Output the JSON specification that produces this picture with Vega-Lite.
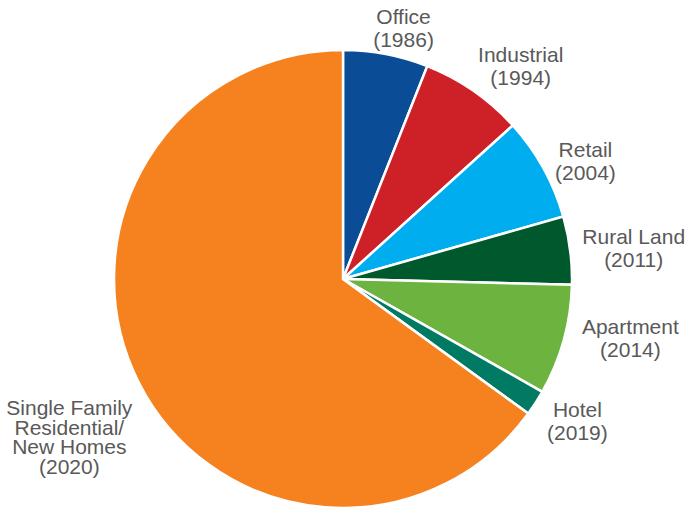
{
  "$schema": "https://vega.github.io/schema/vega-lite/v6.json",
  "width": 686,
  "height": 458,
  "autosize": {"type": "none"},
  "padding": {"left": 0, "right": 2, "top": 50, "bottom": 2},
  "background": "white",
  "config": {
    "view": {"stroke": null},
    "text": {"font": "Liberation Sans", "fontSize": 21, "color": "#595959", "align": "center", "baseline": "middle", "lineBreak": "\n", "lineHeight": 23}
  },
  "data": {
    "values": [
      {"category": "Office", "label": "Office\n(1986)", "value": 6.0, "rank": 1},
      {"category": "Industrial", "label": "Industrial\n(1994)", "value": 7.3, "rank": 2},
      {"category": "Retail", "label": "Retail\n(2004)", "value": 7.3, "rank": 3},
      {"category": "Rural Land", "label": "Rural Land\n(2011)", "value": 4.8, "rank": 4},
      {"category": "Apartment", "label": "Apartment\n(2014)", "value": 7.8, "rank": 5},
      {"category": "Hotel", "label": "Hotel\n(2019)", "value": 1.8, "rank": 6},
      {"category": "Single Family Residential/New Homes", "label": "Single Family\nResidential/\nNew Homes\n(2020)", "value": 65.0, "rank": 7}
    ]
  },
  "encoding": {
    "theta": {"field": "value", "type": "quantitative", "stack": true},
    "order": {"field": "rank", "type": "quantitative"}
  },
  "layer": [
    {
      "mark": {"type": "arc", "outerRadius": 229, "stroke": "white", "strokeWidth": 2.5},
      "encoding": {
        "color": {
          "field": "category", "type": "nominal", "legend": null,
          "scale": {
            "domain": ["Office", "Industrial", "Retail", "Rural Land", "Apartment", "Hotel", "Single Family Residential/New Homes"],
            "range": ["#0B4C96", "#CE2127", "#00AEEF", "#00592D", "#6DB33F", "#007A62", "#F5821F"]
          }
        }
      }
    },
    {
      "mark": {"type": "text", "radius": 259, "dx": 12, "dy": -7},
      "encoding": {"detail": {"field": "category"}, "text": {"condition": {"test": "datum.category === 'Office'", "field": "label"}, "value": ""}}
    },
    {
      "mark": {"type": "text", "radius": 275, "dx": 21, "dy": 3},
      "encoding": {"detail": {"field": "category"}, "text": {"condition": {"test": "datum.category === 'Industrial'", "field": "label"}, "value": ""}}
    },
    {
      "mark": {"type": "text", "radius": 268, "dx": 8, "dy": 2},
      "encoding": {"detail": {"field": "category"}, "text": {"condition": {"test": "datum.category === 'Retail'", "field": "label"}, "value": ""}}
    },
    {
      "mark": {"type": "text", "radius": 291, "dx": 2, "dy": -5},
      "encoding": {"detail": {"field": "category"}, "text": {"condition": {"test": "datum.category === 'Rural Land'", "field": "label"}, "value": ""}}
    },
    {
      "mark": {"type": "text", "radius": 293, "dx": 5, "dy": -29},
      "encoding": {"detail": {"field": "category"}, "text": {"condition": {"test": "datum.category === 'Apartment'", "field": "label"}, "value": ""}}
    },
    {
      "mark": {"type": "text", "radius": 274, "dx": 4, "dy": -16},
      "encoding": {"detail": {"field": "category"}, "text": {"condition": {"test": "datum.category === 'Hotel'", "field": "label"}, "value": ""}}
    },
    {
      "mark": {"type": "text", "radius": 315, "dx": 7, "dy": -13, "lineHeight": 19.5},
      "encoding": {"detail": {"field": "category"}, "text": {"condition": {"test": "datum.category === 'Single Family Residential/New Homes'", "field": "label"}, "value": ""}}
    }
  ]
}
